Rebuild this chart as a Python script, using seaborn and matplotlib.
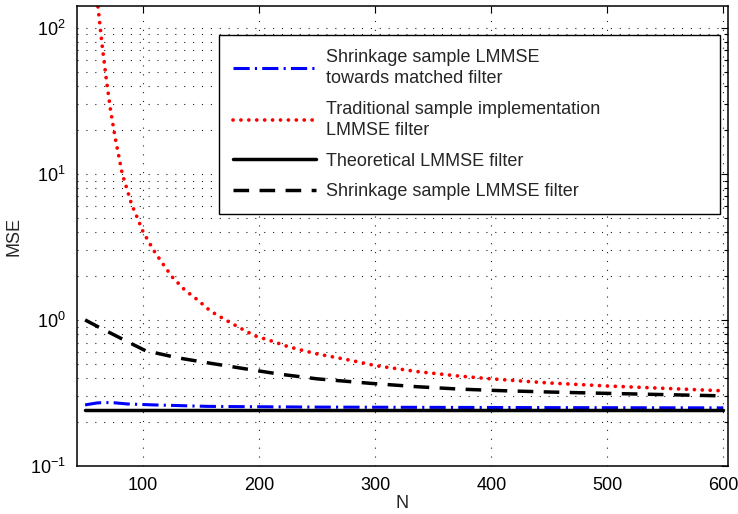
import numpy as np
import pandas as pd
import matplotlib
matplotlib.use("Agg")
import matplotlib.pyplot as plt
import seaborn as sns

# ---- data ----
n_red = [57, 61, 63, 65, 68, 72, 76, 82, 86, 90, 95, 100, 109, 117, 125, 136, 147,
         158, 171, 184, 196, 210, 223, 235, 250, 280, 300, 336, 372, 400, 450, 500, 550, 600]
mse_red = [300, 141, 100, 72, 46, 27, 17.5, 10.0, 7.9, 6.2, 5.0, 4.0, 3.0, 2.42, 1.97, 1.60, 1.37,
           1.15, 1.0, 0.877, 0.78, 0.72, 0.664, 0.625, 0.585, 0.527, 0.487, 0.443, 0.413, 0.395,
           0.37, 0.353, 0.34, 0.327]

n_dash = [50, 62, 75, 88, 102, 130, 158, 190, 218, 250, 296, 336, 373, 408, 450, 494, 550, 600]
mse_dash = [1.0, 0.89, 0.79, 0.70, 0.616, 0.55, 0.505, 0.46, 0.425, 0.395, 0.368, 0.349,
            0.336, 0.328, 0.321, 0.315, 0.308, 0.302]

n_blue = [50, 60, 66, 75, 86, 109, 132, 155, 181, 250, 350, 450, 600]
mse_blue = [0.262, 0.270, 0.272, 0.271, 0.266, 0.262, 0.259, 0.256, 0.255, 0.253, 0.252, 0.251, 0.250]

n_theo = [50, 600]
mse_theo = [0.242, 0.242]

labels = ["Shrinkage sample LMMSE\ntowards matched filter",
          "Traditional sample implementation\nLMMSE filter",
          "Theoretical LMMSE filter",
          "Shrinkage sample LMMSE filter"]
xticks = [100, 200, 300, 400, 500, 600]

# ---- style ----
sns.set_style("white")
plt.rcParams["font.family"] = ["Liberation Sans", "DejaVu Sans"]
plt.rcParams["mathtext.fontset"] = "custom"
plt.rcParams["mathtext.rm"] = "Liberation Sans"
plt.rcParams["mathtext.it"] = "Liberation Sans:italic"
plt.rcParams["mathtext.bf"] = "Liberation Sans:bold"

fs = 13
fig = plt.figure(figsize=(7.38, 5.14), dpi=100)
ax = fig.add_axes([77/738, 48/514, 651/738, 460/514])

lw = 2.2
sns.lineplot(x=n_blue, y=mse_blue, ax=ax, color="#0000ff", lw=lw,
             linestyle=(0, (5.3, 1.7, 0.7, 1.7)), label=labels[0])
sns.lineplot(x=n_red, y=mse_red, ax=ax, color="#ff0000", lw=2.7,
             linestyle=(0, (0.01, 2.1)), dash_capstyle="round", label=labels[1])
sns.lineplot(x=n_theo, y=mse_theo, ax=ax, color="black", lw=lw + 0.3,
             linestyle="-", label=labels[2])
sns.lineplot(x=n_dash, y=mse_dash, ax=ax, color="black", lw=lw + 0.3,
             linestyle=(0, (4.5, 3)), label=labels[3])

ax.set_yscale("log")
ax.set_xlim(43, 604)
ax.set_ylim(0.1, 141)
ax.set_xticks(xticks)
ax.set_xticklabels([str(t) for t in xticks])

gstyle = dict(color="#222222", linestyle=(0, (1, 7)), linewidth=0.8)
ax.grid(True, which="major", axis="both", **gstyle)
ax.grid(True, which="minor", axis="y", **gstyle)

ax.tick_params(axis="both", which="both", direction="in", top=True, right=True,
               labelsize=fs, colors="black")
ax.tick_params(axis="x", which="major", pad=8)
ax.tick_params(axis="y", which="both", pad=8)
ax.tick_params(which="major", length=5, width=0.8)
ax.tick_params(which="minor", length=3, width=0.8)
for s in ax.spines.values():
    s.set_color("black")
    s.set_linewidth(1.1)

ax.set_xlabel("N", fontsize=fs, labelpad=1)
ax.set_ylabel("MSE", fontsize=fs, labelpad=5)

x0 = (219 - 77) / 651
w = (720 - 219) / 651
top = 1 - (35 - 6) / 460
h = (213 - 35) / 460
leg = ax.legend(loc="upper right", bbox_to_anchor=(x0, top - h, w, h), mode="expand",
                borderaxespad=0, fancybox=False, framealpha=1, edgecolor="black",
                fontsize=fs, handlelength=4.6, handletextpad=0.55, labelspacing=0.75,
                borderpad=0.75)
for t in leg.get_texts():
    t.set_linespacing(1.35)
leg.get_frame().set_linewidth(1.0)

fig.savefig("out.png", dpi=100)
